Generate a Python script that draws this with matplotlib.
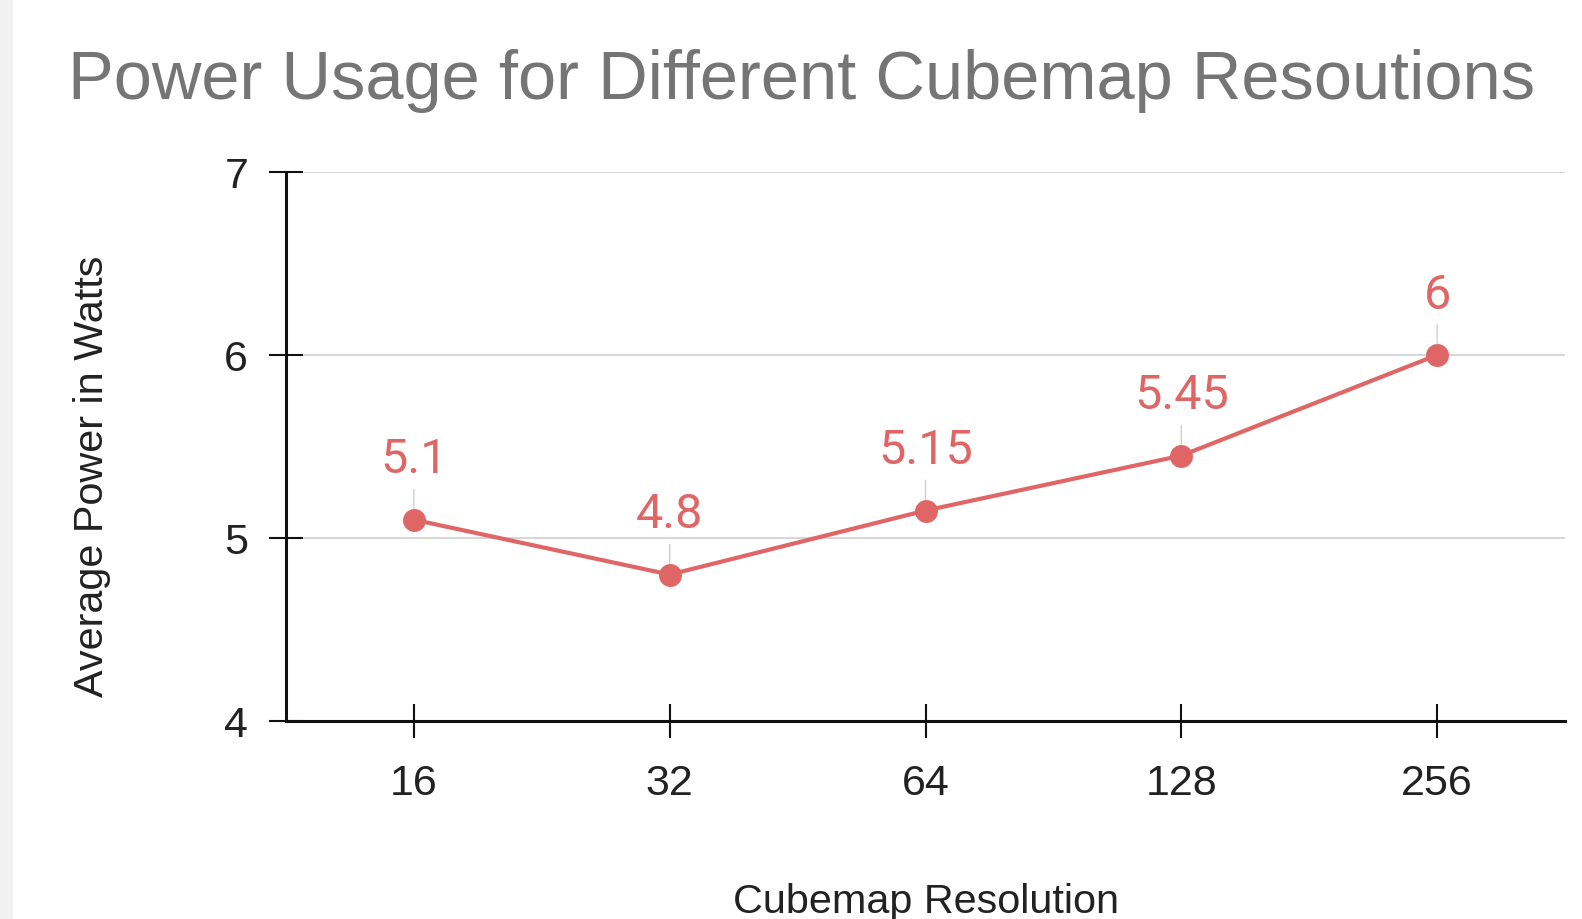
import matplotlib
matplotlib.use("Agg")
import matplotlib.pyplot as plt
from matplotlib.patches import Rectangle

plt.rcParams['font.family'] = ['Liberation Sans', 'DejaVu Sans']

resolutions = ["16", "32", "64", "128", "256"]
power = [5.1, 4.8, 5.15, 5.45, 6.0]
point_labels = ["5.1", "4.8", "5.15", "5.45", "6"]
y_ticks = [4, 5, 6, 7]

title = "Power Usage for Different Cubemap Resoutions"
x_label = "Cubemap Resolution"
y_label = "Average Power in Watts"

W, H = 1582, 920
fig = plt.figure(figsize=(W / 100, H / 100), dpi=100)
fig.patch.set_facecolor("white")
fig.patches.append(Rectangle((0, 0), 13 / W, 1, transform=fig.transFigure,
                             facecolor="#f1f1f1", edgecolor="none", zorder=0))

left, right, top, bottom = 286, 1565, 173, 722
ax = fig.add_axes([left / W, 1 - bottom / H, (right - left) / W, (bottom - top) / H])

red = "#e06666"
x = list(range(len(resolutions)))
ax.plot(x, power, color=red, lw=3, marker="o", markersize=15.5, zorder=3,
        solid_capstyle="round")

for xi, yi, lab in zip(x, power, point_labels):
    ax.annotate(lab, xy=(xi, yi), xytext=(0, 34), textcoords="offset points",
                ha="center", va="baseline", fontsize=35, color=red,
                family=["Roboto", "DejaVu Sans"],
                arrowprops=dict(arrowstyle="-", color="#d0d0d0", lw=1,
                                shrinkA=3, shrinkB=8),
                zorder=4)

ax.set_xlim(-0.5, 4.5)
ax.set_ylim(4, 7)
ax.set_xticks(x)
ax.set_xticklabels(resolutions)
ax.set_yticks(y_ticks)
ax.set_yticklabels([str(t) for t in y_ticks])

ax.grid(axis="y", color="#cccccc", lw=1.1, zorder=0)
ax.set_axisbelow(True)

for s in ["top", "right"]:
    ax.spines[s].set_visible(False)
for s in ["left", "bottom"]:
    ax.spines[s].set_color("#111111")
    ax.spines[s].set_linewidth(2.2)

ax.tick_params(axis="both", direction="inout", length=24.5, width=1.5,
               color="#111111", labelsize=31, labelcolor="#222222")
ax.tick_params(axis="y", pad=15)
ax.tick_params(axis="x", pad=18)

fig.text(68 / W, 1 - 99 / H, title, ha="left", va="baseline",
         fontsize=49.4, color="#757575")
fig.text(926 / W, 1 - 913 / H, x_label, ha="center", va="baseline",
         fontsize=29.8, color="#222222")
fig.text(92 / W, 1 - 476 / H, y_label, ha="center", va="center",
         rotation=90, fontsize=29.8, color="#222222")

fig.savefig("out.png", dpi=100)
